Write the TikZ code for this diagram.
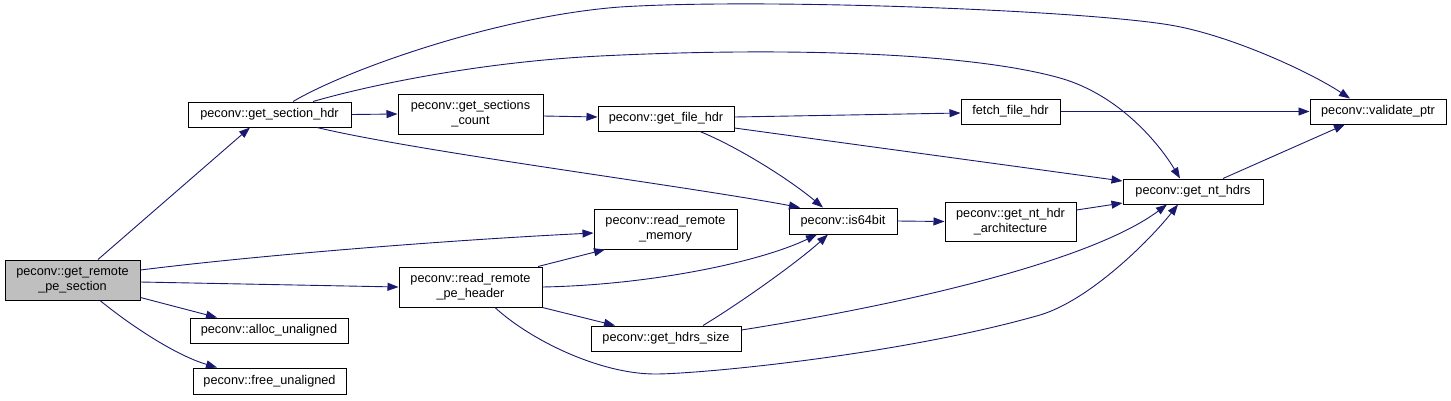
\documentclass[tikz,border=0pt]{standalone}
\usepackage{fontspec}
\setmainfont{Liberation Sans}
\usetikzlibrary{arrows.meta}
\definecolor{edgecol}{HTML}{191970}
\begin{document}
\begin{tikzpicture}[x=1pt,y=-1pt,
  box/.style={draw=black, line width=1pt, fill=white, inner sep=0pt, align=center,
              font=\fontsize{12.7}{15}\selectfont},
  edge/.style={draw=edgecol, line width=0.9pt, -{Triangle[length=11pt,width=8pt]}}]
\useasboundingbox (0,0) rectangle (1451,400);
% nodes
\node[box, fill=gray!50, minimum width=135pt, minimum height=40pt] (grs) at (72.5,280) {peconv::get\_remote\\\_pe\_section};
\node[box, minimum width=163pt, minimum height=25pt] (gsh) at (269.5,114.5) {peconv::get\_section\_hdr};
\node[box, minimum width=158pt, minimum height=25pt] (alloc) at (269,330.5) {peconv::alloc\_unaligned};
\node[box, minimum width=153pt, minimum height=26pt] (free) at (269.5,381) {peconv::free\_unaligned};
\node[box, minimum width=145pt, minimum height=40pt] (gsc) at (470.5,114) {peconv::get\_sections\\\_count};
\node[box, minimum width=143pt, minimum height=40pt] (rrph) at (470.5,287) {peconv::read\_remote\\\_pe\_header};
\node[box, minimum width=136pt, minimum height=25pt] (gfh) at (666,118.5) {peconv::get\_file\_hdr};
\node[box, minimum width=143pt, minimum height=40pt] (rrm) at (665.5,229) {peconv::read\_remote\\\_memory};
\node[box, minimum width=150pt, minimum height=25pt] (ghs) at (666,338.5) {peconv::get\_hdrs\_size};
\node[box, minimum width=108pt, minimum height=26pt] (is64) at (843,221) {peconv::is64bit};
\node[box, minimum width=99pt, minimum height=25pt] (fetch) at (1010.5,111.5) {fetch\_file\_hdr};
\node[box, minimum width=131pt, minimum height=39pt] (arch) at (1010.5,221.5) {peconv::get\_nt\_hdr\\\_architecture};
\node[box, minimum width=140pt, minimum height=25pt] (nt) at (1193,191.5) {peconv::get\_nt\_hdrs};
\node[box, minimum width=136pt, minimum height=25pt] (val) at (1378,111.5) {peconv::validate\_ptr};
% edges
\draw[edge] ([xshift=25.5pt]grs.north) -- ([xshift=-19.5pt]gsh.south);
\draw[edge] ([yshift=10pt]grs.east) .. controls (260,255) and (450,240) .. ([yshift=-4pt]rrm.west);
\draw[edge] ([yshift=-2pt]grs.east) -- (rrph.west);
\draw[edge] ([yshift=3pt]grs.south east) -- ([xshift=-52pt]alloc.north);
\draw[edge] ([xshift=27.5pt]grs.south) .. controls (130,325) and (175,355) .. ([xshift=-52.5pt]free.north);
\draw[edge] (gsh.east) -- (gsc.west);
\draw[edge] ([xshift=23.5pt]gsh.north) .. controls (350,68) and (500,16) .. (620,7)
   .. controls (760,-2) and (1080,10) .. (1170,25)
   .. controls (1230,35) and (1310,72) .. ([xshift=-28pt]val.north);
\draw[edge] ([xshift=43.5pt]gsh.north) .. controls (370,85) and (480,62) .. (600,56)
   .. controls (760,48) and (960,50) .. (1060,78)
   .. controls (1120,95) and (1160,145) .. ([xshift=-13pt]nt.north);
\draw[edge] ([xshift=47.5pt]gsh.south) .. controls (420,152) and (680,185) .. ([xshift=-43pt]is64.north);
\draw[edge] ([yshift=-2pt]gsc.east) -- ([yshift=1.5pt]gfh.west);
\draw[edge] ([yshift=1.5pt]gfh.east) -- ([yshift=-1.5pt]fetch.west);
\draw[edge] ([yshift=-9.5pt]gfh.east) -- ([yshift=10.5pt]nt.west);
\draw[edge] ([xshift=34pt]gfh.south) .. controls (740,148) and (790,180) .. ([xshift=-20pt]is64.north);
\draw[edge] (fetch.east) -- (val.west);
\draw[edge] ([xshift=30pt]nt.north) -- ([xshift=-33pt]val.south);
\draw[edge] (is64.east) -- (arch.west);
\draw[edge] ([yshift=11.5pt]arch.east) -- ([yshift=-11.5pt]nt.west);
\draw[edge] ([xshift=67.5pt]rrph.north) -- ([xshift=-60.5pt]rrm.south);
\draw[edge] (rrph.east) .. controls (650,285) and (760,262) .. ([xshift=-26pt]is64.south);
\draw[edge] (rrph.south east) -- ([xshift=-51pt]ghs.north);
\draw[edge] ([xshift=24.5pt]rrph.south) .. controls (530,340) and (600,374) .. (655,374)
   .. controls (700,374) and (900,355) .. (1040,315)
   .. controls (1090,300) and (1150,240) .. ([xshift=-15pt]nt.south);
\draw[edge] ([xshift=37pt]ghs.north) .. controls (745,300) and (800,260) .. ([xshift=-15pt]is64.south);
\draw[edge] ([yshift=8.5pt]ghs.east) .. controls (900,305) and (1090,262) .. ([xshift=-26pt]nt.south);
\end{tikzpicture}
\end{document}
